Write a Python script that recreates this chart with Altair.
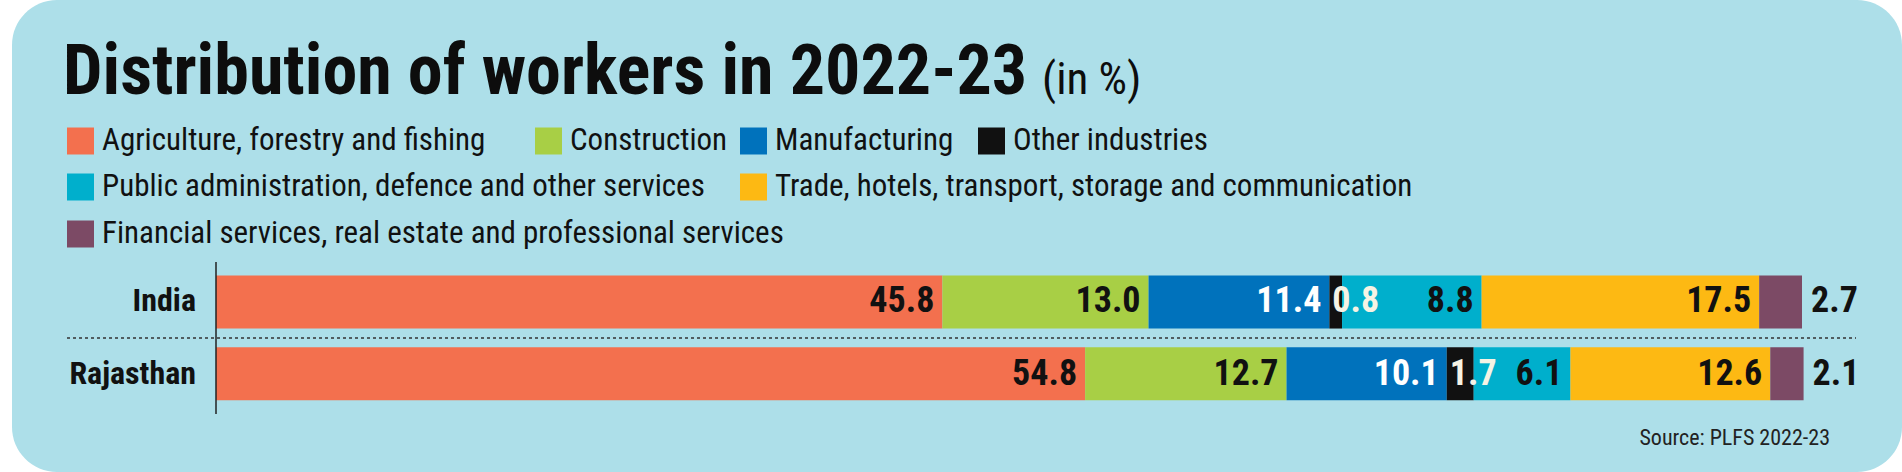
import altair as alt
import pandas as pd

# ---------------- data ----------------
REGIONS = ["India", "Rajasthan"]
SECTORS = [
    "Agriculture, forestry and fishing",
    "Construction",
    "Manufacturing",
    "Other industries",
    "Public administration, defence and other services",
    "Trade, hotels, transport, storage and communication",
    "Financial services, real estate and professional services",
]
INDIA = [45.8, 13.0, 11.4, 0.8, 8.8, 17.5, 2.7]
RAJASTHAN = [54.8, 12.7, 10.1, 1.7, 6.1, 12.6, 2.1]
COLORS = ["#F3704E", "#A8CF45", "#0072BC", "#111111", "#00AFCC", "#FDB913", "#7C4A65"]
LABEL_COLORS = ["#111111", "#111111", "#FFFFFF", "#F6F3E4", "#111111", "#111111", "#111111"]
TITLE = "Distribution of workers in 2022-23"
SUBTITLE = "(in %)"
SOURCE = "Source: PLFS 2022-23"

# ---------------- layout ----------------
LEGEND_X = [67, 535, 740, 978, 67, 740, 67]
LEGEND_ROW = [0, 0, 0, 0, 1, 1, 2]
LEGEND_ROW_Y = [141, 187, 234]
FONT = "'Roboto Condensed', 'DejaVu Sans Condensed', sans-serif"

rows = []
for region, vals in zip(REGIONS, [INDIA, RAJASTHAN]):
    start = 0.0
    for i, (s, v) in enumerate(zip(SECTORS, vals)):
        end = start + v
        kind = "inner_left" if i == 3 else ("outside" if i == 6 else "right")
        rows.append(dict(region=region, sector=s, value=v, start=start, end=end,
                         color=COLORS[i], lcolor=LABEL_COLORS[i], kind=kind,
                         label=f"{v:.1f}"))
        start = end
bars_df = pd.DataFrame(rows)

leg_df = pd.DataFrame({
    "sector": SECTORS,
    "color": COLORS,
    "sx": LEGEND_X,
    "cy": [LEGEND_ROW_Y[r] for r in LEGEND_ROW],
})

xs = alt.Scale(domain=[0, 100], range=[216, 1802])
ys = alt.Scale(domain=REGIONS, range=[264.8, 410.9], paddingInner=0.26, paddingOuter=0.15)
one = pd.DataFrame({"a": [0]})

bg = alt.Chart(one).mark_rect(color="#ADDFE9", cornerRadius=45).encode(
    x=alt.value(12), x2=alt.value(1902), y=alt.value(0), y2=alt.value(472))

title = alt.Chart(pd.DataFrame({"t": [TITLE]})).mark_text(
    align="left", baseline="alphabetic", font=FONT, fontSize=70, fontWeight="bold", color="#0d0d0d"
).encode(x=alt.value(63), y=alt.value(94), text="t:N")

subtitle = alt.Chart(pd.DataFrame({"t": [SUBTITLE]})).mark_text(
    align="left", baseline="alphabetic", font=FONT, fontSize=45, color="#0d0d0d"
).encode(x=alt.value(1042), y=alt.value(94), text="t:N")

sw = alt.Chart(leg_df).transform_calculate(
    x1="datum.sx + 27", y0="datum.cy - 13.5", y1="datum.cy + 13.5"
).mark_rect().encode(
    x=alt.X("sx:Q", scale=None, axis=None), x2="x1:Q",
    y=alt.Y("y0:Q", scale=None, axis=None), y2="y1:Q",
    color=alt.Color("color:N", scale=None))

sw_txt = alt.Chart(leg_df).transform_calculate(tx="datum.sx + 35").mark_text(
    align="left", baseline="middle", font=FONT, fontSize=31, color="#111111"
).encode(x=alt.X("tx:Q", scale=None, axis=None), y=alt.Y("cy:Q", scale=None, axis=None), text="sector:N")

bars = alt.Chart(bars_df).mark_bar().encode(
    x=alt.X("start:Q", scale=xs, axis=None), x2="end:Q",
    y=alt.Y("region:N", scale=ys, axis=None),
    color=alt.Color("color:N", scale=None))

def labels(kind, pos, align, dx):
    return alt.Chart(bars_df).transform_filter(f"datum.kind == '{kind}'").mark_text(
        align=align, baseline="middle", dx=dx, font=FONT, fontSize=36, fontWeight="bold"
    ).encode(x=alt.X(f"{pos}:Q", scale=xs, axis=None),
             y=alt.Y("region:N", scale=ys, axis=None),
             text="label:N", color=alt.Color("lcolor:N", scale=None))

lab_r = labels("right", "end", "right", -8)
lab_in = labels("inner_left", "start", "left", 3)
lab_out = labels("outside", "end", "left", 9)

country = alt.Chart(pd.DataFrame({"region": REGIONS})).mark_text(
    align="right", baseline="middle", font=FONT, fontSize=32, fontWeight="bold", color="#111111"
).encode(x=alt.value(196), y=alt.Y("region:N", scale=ys, axis=None), text="region:N")

axis_rule = alt.Chart(one).mark_rule(color="#222222", strokeWidth=1.5).encode(
    x=alt.value(216), y=alt.value(262), y2=alt.value(414))
sep_rule = alt.Chart(one).mark_rule(color="#333333", strokeWidth=1.5, strokeDash=[3, 3]).encode(
    x=alt.value(67), x2=alt.value(1856), y=alt.value(338))

source = alt.Chart(pd.DataFrame({"t": [SOURCE]})).mark_text(
    align="right", baseline="alphabetic", font=FONT, fontSize=22, color="#222222"
).encode(x=alt.value(1830), y=alt.value(445), text="t:N")

chart = alt.layer(
    bg, title, subtitle, sw, sw_txt, bars, lab_r, lab_in, lab_out,
    country, axis_rule, sep_rule, source
).resolve_scale(
    x="independent", y="independent", color="independent"
).properties(
    width=1902, height=472, padding=0, background="#FFFFFF",
    autosize=alt.AutoSizeParams(type="none")
).configure_view(stroke=None)

chart.save("out.html", embed_options={"renderer": "svg", "actions": False})
